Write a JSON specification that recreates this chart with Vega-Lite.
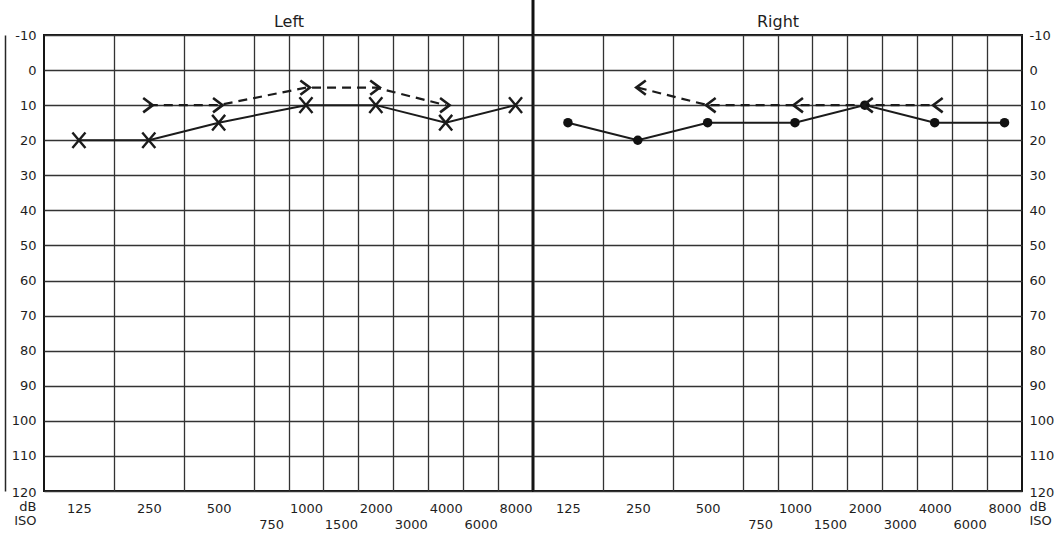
{
  "$schema": "https://vega.github.io/schema/vega-lite/v6.json",
  "background": "white",
  "padding": {"left": 4, "top": -3, "right": 0, "bottom": 0},
  "datasets": {
    "audiogram": [
      {"ear": "Left", "conduction": "air", "freq": 125, "db": 20},
      {"ear": "Left", "conduction": "air", "freq": 250, "db": 20},
      {"ear": "Left", "conduction": "air", "freq": 500, "db": 15},
      {"ear": "Left", "conduction": "air", "freq": 1000, "db": 10},
      {"ear": "Left", "conduction": "air", "freq": 2000, "db": 10},
      {"ear": "Left", "conduction": "air", "freq": 4000, "db": 15},
      {"ear": "Left", "conduction": "air", "freq": 8000, "db": 10},
      {"ear": "Left", "conduction": "bone", "freq": 250, "db": 10},
      {"ear": "Left", "conduction": "bone", "freq": 500, "db": 10},
      {"ear": "Left", "conduction": "bone", "freq": 1000, "db": 5},
      {"ear": "Left", "conduction": "bone", "freq": 2000, "db": 5},
      {"ear": "Left", "conduction": "bone", "freq": 4000, "db": 10},
      {"ear": "Right", "conduction": "air", "freq": 125, "db": 15},
      {"ear": "Right", "conduction": "air", "freq": 250, "db": 20},
      {"ear": "Right", "conduction": "air", "freq": 500, "db": 15},
      {"ear": "Right", "conduction": "air", "freq": 1000, "db": 15},
      {"ear": "Right", "conduction": "air", "freq": 2000, "db": 10},
      {"ear": "Right", "conduction": "air", "freq": 4000, "db": 15},
      {"ear": "Right", "conduction": "air", "freq": 8000, "db": 15},
      {"ear": "Right", "conduction": "bone", "freq": 250, "db": 5},
      {"ear": "Right", "conduction": "bone", "freq": 500, "db": 10},
      {"ear": "Right", "conduction": "bone", "freq": 1000, "db": 10},
      {"ear": "Right", "conduction": "bone", "freq": 2000, "db": 10},
      {"ear": "Right", "conduction": "bone", "freq": 4000, "db": 10}
    ],
    "divider": [{"freq": 9238, "top": -20, "bottom": 120}]
  },
  "spacing": 0,
  "bounds": "flush",
  "hconcat": [
    {
      "width": 489,
      "height": 456,
      "encoding": {
        "x": {
          "field": "freq",
          "type": "quantitative",
          "scale": {
            "type": "linear",
            "nice": false,
            "zero": false,
            "domain": [88, 125, 177, 250, 354, 500, 612, 750, 866, 1000, 1225, 1500, 1732, 2000, 2449, 3000, 3464, 4000, 4899, 6000, 6928, 8000, 9238],
            "range": [0, 34.93, 69.86, 104.79, 139.71, 174.64, 209.57, 227.04, 244.5, 261.96, 279.43, 296.89, 314.36, 331.82, 349.29, 366.75, 384.21, 401.68, 419.14, 436.61, 454.07, 471.54, 489]
          },
          "axis": {
            "title": null,
            "values": [125, 177, 250, 354, 500, 612, 750, 866, 1000, 1225, 1500, 1732, 2000, 2449, 3000, 3464, 4000, 4899, 6000, 6928, 8000],
            "labelExpr": "indexof([750, 1500, 3000, 6000], datum.value) >= 0 ? ['', '' + datum.value] : (indexof([125, 250, 500, 1000, 2000, 4000, 8000], datum.value) >= 0 ? '' + datum.value : '')",
            "gridOpacity": {"condition": {"test": "indexof([125, 250, 500, 750, 1000, 1500, 2000, 3000, 4000, 6000, 8000], datum.value) >= 0", "value": 0}, "value": 1},
            "grid": true,
            "ticks": false,
            "tickSize": 0,
            "domain": false,
            "labelBaseline": "top",
            "labelPadding": 11,
            "labelLineHeight": 16,
            "labelOverlap": false,
            "labelFlush": false,
            "labelBound": false
          }
        },
        "y": {
          "field": "db",
          "type": "quantitative",
          "scale": {"domain": [-10, 120], "reverse": true, "nice": false, "zero": false},
          "axis": {
            "title": "Left",
            "titleAngle": 0,
            "titleX": 283.5,
            "titleY": -9,
            "titleAlign": "center",
            "titleBaseline": "alphabetic",
            "orient": "left",
            "values": [-10, 0, 10, 20, 30, 40, 50, 60, 70, 80, 90, 100, 110, 120],
            "labelExpr": "datum.value === 120 ? ['120', 'dB', 'ISO'] : '' + datum.value",
            "grid": true,
            "ticks": false,
            "tickSize": 0,
            "domain": true,
            "domainColor": "#262626",
            "domainWidth": 1.5,
            "offset": 39,
            "labelPadding": -31,
            "labelAlign": "right",
            "labelBaseline": {"condition": {"test": "datum.value === 120", "value": "top"}, "value": "middle"},
            "labelOffset": {"condition": {"test": "datum.value === 120", "value": -5}, "value": 0},
            "labelLineHeight": 14,
            "labelOverlap": false,
            "labelFlush": false,
            "labelBound": false
          }
        }
      },
      "layer": [
        {
          "data": {"name": "audiogram"},
          "transform": [{"filter": "datum.ear === 'Left' && datum.conduction === 'air'"}],
          "mark": {"type": "line", "color": "#1b1b1b", "strokeWidth": 2}
        },
        {
          "data": {"name": "audiogram"},
          "transform": [{"filter": "datum.ear === 'Left' && datum.conduction === 'bone'"}],
          "mark": {"type": "line", "color": "#1b1b1b", "strokeWidth": 2.2, "strokeDash": [9, 6]}
        },
        {
          "data": {"name": "audiogram"},
          "transform": [{"filter": "datum.ear === 'Left' && datum.conduction === 'air'"}],
          "mark": {"type": "point", "shape": "M-1,-1.2L1,1.2M1,-1.2L-1,1.2", "size": 170, "filled": false, "strokeWidth": 2.4, "color": "#1b1b1b", "opacity": 1}
        },
        {
          "data": {"name": "audiogram"},
          "transform": [{"filter": "datum.ear === 'Left' && datum.conduction === 'bone'"}],
          "mark": {"type": "point", "shape": "M-0.7,-0.9L0.5,0L-0.7,0.9", "size": 256, "filled": false, "strokeWidth": 2.6, "color": "#1b1b1b", "opacity": 1}
        },
        {
          "data": {"name": "divider"},
          "mark": {"type": "rule", "clip": false, "strokeWidth": 3, "color": "#111111"},
          "encoding": {
            "x": {"field": "freq", "type": "quantitative"},
            "y": {"field": "top", "type": "quantitative"},
            "y2": {"field": "bottom"}
          }
        }
      ]
    },
    {
      "width": 489,
      "height": 456,
      "encoding": {
        "x": {
          "field": "freq",
          "type": "quantitative",
          "scale": {
            "type": "linear",
            "nice": false,
            "zero": false,
            "domain": [88, 125, 177, 250, 354, 500, 612, 750, 866, 1000, 1225, 1500, 1732, 2000, 2449, 3000, 3464, 4000, 4899, 6000, 6928, 8000, 9238],
            "range": [0, 34.93, 69.86, 104.79, 139.71, 174.64, 209.57, 227.04, 244.5, 261.96, 279.43, 296.89, 314.36, 331.82, 349.29, 366.75, 384.21, 401.68, 419.14, 436.61, 454.07, 471.54, 489]
          },
          "axis": {
            "title": null,
            "values": [125, 177, 250, 354, 500, 612, 750, 866, 1000, 1225, 1500, 1732, 2000, 2449, 3000, 3464, 4000, 4899, 6000, 6928, 8000],
            "labelExpr": "indexof([750, 1500, 3000, 6000], datum.value) >= 0 ? ['', '' + datum.value] : (indexof([125, 250, 500, 1000, 2000, 4000, 8000], datum.value) >= 0 ? '' + datum.value : '')",
            "gridOpacity": {"condition": {"test": "indexof([125, 250, 500, 750, 1000, 1500, 2000, 3000, 4000, 6000, 8000], datum.value) >= 0", "value": 0}, "value": 1},
            "grid": true,
            "ticks": false,
            "tickSize": 0,
            "domain": false,
            "labelBaseline": "top",
            "labelPadding": 11,
            "labelLineHeight": 16,
            "labelOverlap": false,
            "labelFlush": false,
            "labelBound": false
          }
        },
        "y": {
          "field": "db",
          "type": "quantitative",
          "scale": {"domain": [-10, 120], "reverse": true, "nice": false, "zero": false},
          "axis": {
            "title": "Right",
            "titleAngle": 0,
            "titleX": -244.5,
            "titleY": -9,
            "titleAlign": "center",
            "titleBaseline": "alphabetic",
            "orient": "right",
            "values": [-10, 0, 10, 20, 30, 40, 50, 60, 70, 80, 90, 100, 110, 120],
            "labelExpr": "datum.value === 120 ? ['120', 'dB', 'ISO'] : '' + datum.value",
            "grid": true,
            "ticks": false,
            "tickSize": 0,
            "domain": false,
            "labelPadding": 7,
            "labelAlign": "left",
            "labelBaseline": {"condition": {"test": "datum.value === 120", "value": "top"}, "value": "middle"},
            "labelOffset": {"condition": {"test": "datum.value === 120", "value": -5}, "value": 0},
            "labelLineHeight": 14,
            "labelOverlap": false,
            "labelFlush": false,
            "labelBound": false
          }
        }
      },
      "layer": [
        {
          "data": {"name": "audiogram"},
          "transform": [{"filter": "datum.ear === 'Right' && datum.conduction === 'air'"}],
          "mark": {"type": "line", "color": "#1b1b1b", "strokeWidth": 2}
        },
        {
          "data": {"name": "audiogram"},
          "transform": [{"filter": "datum.ear === 'Right' && datum.conduction === 'bone'"}],
          "mark": {"type": "line", "color": "#1b1b1b", "strokeWidth": 2.2, "strokeDash": [9, 6]}
        },
        {
          "data": {"name": "audiogram"},
          "transform": [{"filter": "datum.ear === 'Right' && datum.conduction === 'air'"}],
          "mark": {"type": "point", "shape": "circle", "size": 90, "filled": true, "color": "#111111", "opacity": 1}
        },
        {
          "data": {"name": "audiogram"},
          "transform": [{"filter": "datum.ear === 'Right' && datum.conduction === 'bone'"}],
          "mark": {"type": "point", "shape": "M1,-0.9L-0.2,0L1,0.9", "size": 256, "filled": false, "strokeWidth": 2.6, "color": "#1b1b1b", "opacity": 1}
        }
      ]
    }
  ],
  "config": {
    "view": {"stroke": "#151515", "strokeWidth": 2},
    "axis": {
      "labelFont": "DejaVu Sans",
      "labelFontSize": 13,
      "labelColor": "#1e1e1e",
      "gridColor": "#333333",
      "gridWidth": 1.3,
      "titleFont": "DejaVu Sans",
      "titleFontSize": 16,
      "titleFontWeight": "normal",
      "titleColor": "#1e1e1e"
    }
  }
}
